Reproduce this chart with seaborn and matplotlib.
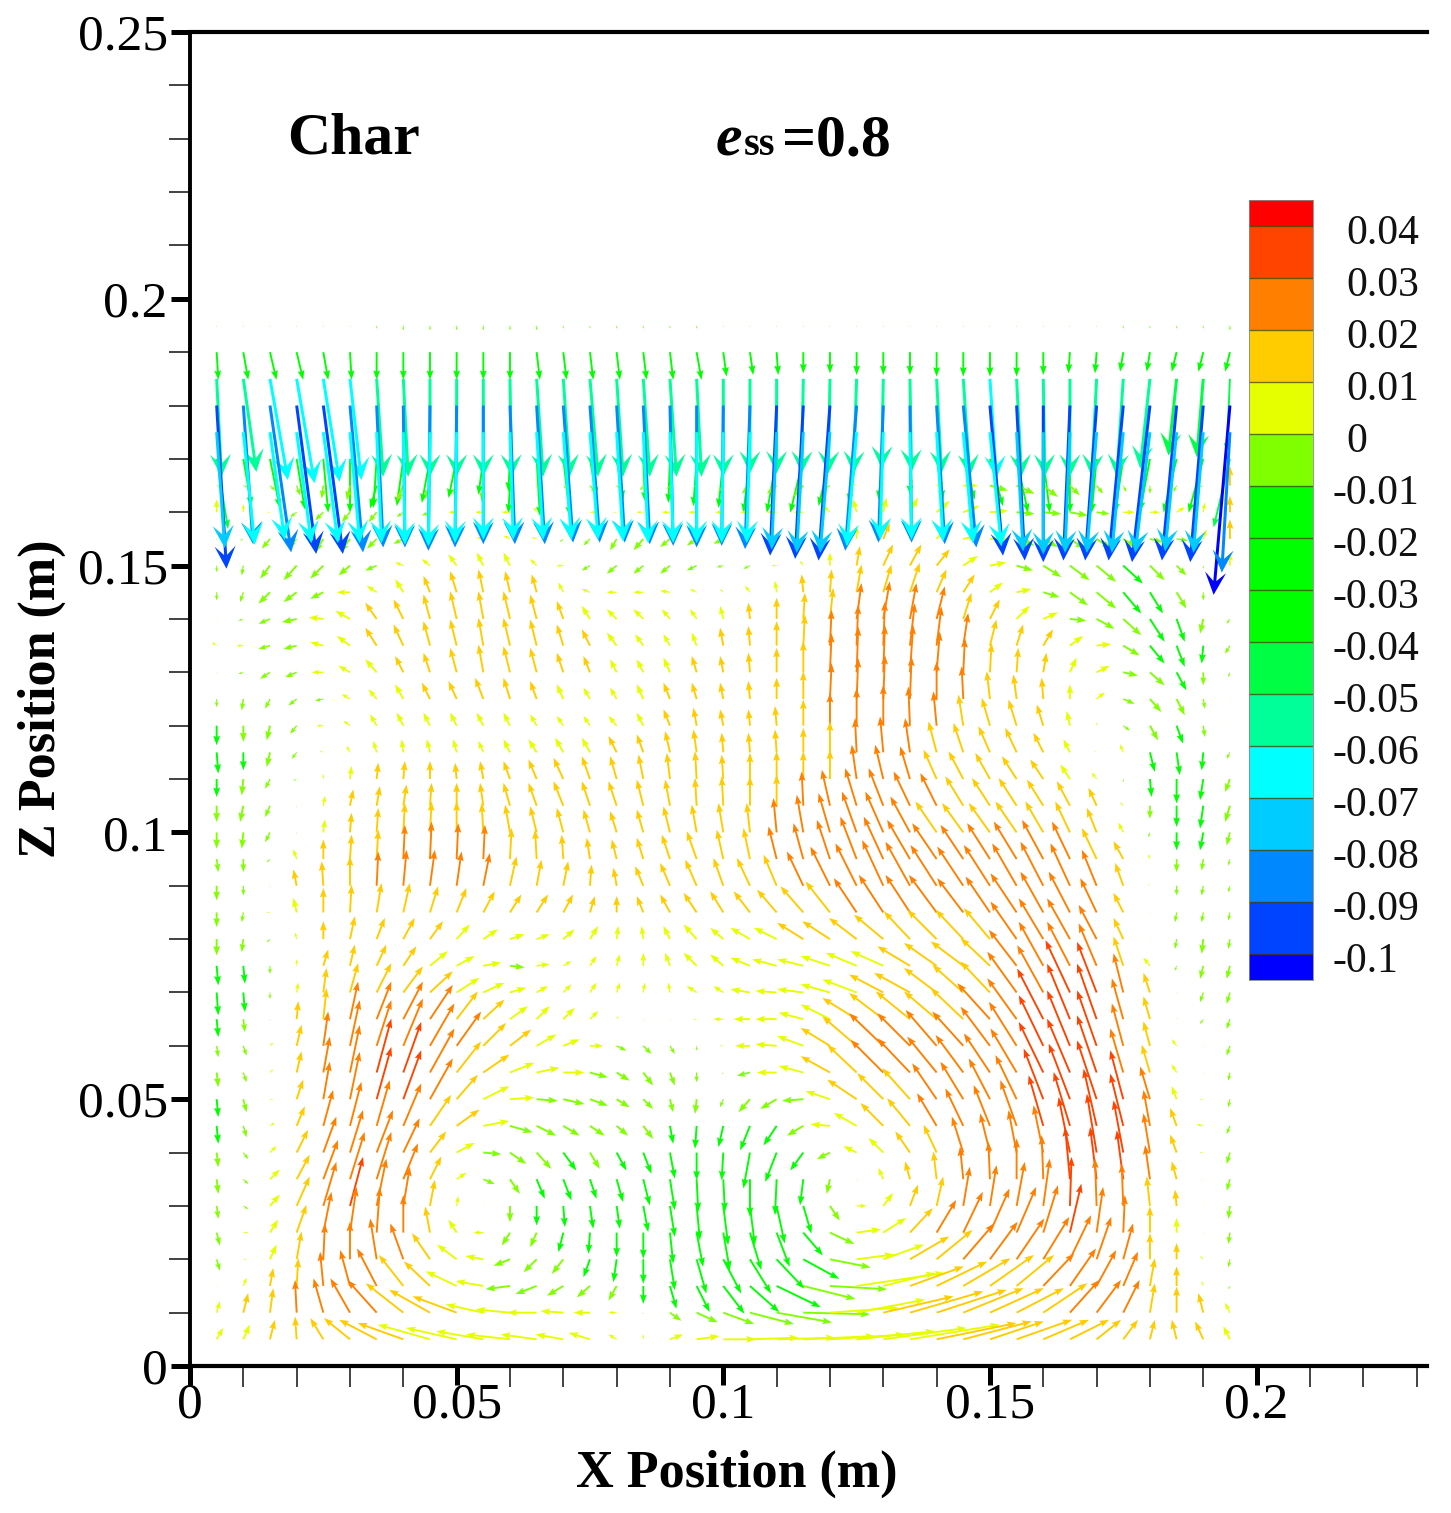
import numpy as np
import matplotlib
matplotlib.use('Agg')
import matplotlib.pyplot as plt
from matplotlib.colors import ListedColormap, BoundaryNorm
from matplotlib.ticker import FixedLocator
import seaborn as sns

# grid of the vector field (m)
x_pos = [0.005, 0.01, 0.015, 0.02, 0.025, 0.03, 0.035, 0.04, 0.045, 0.05, 0.055, 0.06, 0.065,
         0.07, 0.075, 0.08, 0.085, 0.09, 0.095, 0.1, 0.105, 0.11, 0.115, 0.12, 0.125, 0.13,
         0.135, 0.14, 0.145, 0.15, 0.155, 0.16, 0.165, 0.17, 0.175, 0.18, 0.185, 0.19, 0.195]
z_pos = [0.195, 0.19, 0.185, 0.18, 0.175, 0.17, 0.165, 0.16, 0.155, 0.15, 0.145, 0.14, 0.135,
         0.13, 0.125, 0.12, 0.115, 0.11, 0.105, 0.1, 0.095, 0.09, 0.085, 0.08, 0.075, 0.07,
         0.065, 0.06, 0.055, 0.05, 0.045, 0.04, 0.035, 0.03, 0.025, 0.02, 0.015, 0.01, 0.005]

# horizontal velocity, mm/s, one row per z_pos
u_rows = [
    [0,0,0,0,0,0,0,0,0,0,0,0,0,0,0,0,0,0,0, 0,0,0,0,0,0,0,0,0,0,0,0,0,0,0,0,0,0,0,0],
    [1,3,4,4,3,1,0,0,0,0,0,0,2,2,2,2,2,2,3, 2,2,1,0,0,0,0,0,0,0,0,0,0,-1,-1,-2,-2,-3,-3,-3],
    [3,8,11,11,10,7,4,3,0,0,0,1,4,4,5,4,4,4,3, 0,0,0,-1,-1,-2,-1,1,3,4,4,3,1,0,-3,-4,-6,-5,-4,-2],
    [6,6,13,12,12,8,4,1,-1,-1,0,3,5,6,6,5,4,2,0, -1,-3,-4,-5,-7,-7,-3,1,5,8,8,5,0,-4,-7,-9,-11,-9,-8,-10],
    [5,7,9,9,9,6,3,1,-1,-1,0,2,4,5,5,4,3,2,0, -1,-2,-3,-4,-6,-6,-2,1,4,6,7,4,0,-3,-6,-7,-9,-7,-6,-5],
    [7,5,6,5,3,0,-2,-4,-5,-5,-3,-1,2,4,4,4,1,-1,-2, -3,-4,-6,-8,-7,-5,-3,0,4,7,8,7,4,0,-3,-5,-6,-8,-9,-10],
    [3,3,3,2,-1,-2,-4,-4,-3,-2,-1,-1,1,2,4,4,-2,-2,-2, -3,-5,-6,-6,-5,-2,0,2,5,9,11,11,9,6,4,2,0,-2,-2,0],
    [0,0,-2,-4,-5,-5,-5,-4,-5,-5,-5,-5,-2,0,4,-2,-4,-5,-5, -5,-6,-6,-6,-4,-2,2,5,8,10,11,11,11,11,8,7,6,5,1,0],
    [0,-2,-5,-4,-5,-6,-6,-6,-4,-4,-4,-4,-3,-2,-4,-4,-6,-6,-6, -6,-3,-3,-3,-1,0,4,5,6,9,11,11,9,9,9,8,8,7,2,0],
    [0,-1,-6,-8,-8,-7,-7,-5,-5,-5,-4,-4,-4,-4,-5,-6,-6,-6,-6, -4,-4,-3,-2,0,2,6,7,8,9,10,10,11,12,12,12,9,6,0,0],
    [0,-2,-7,-8,-8,-8,-6,-5,-4,-4,-3,-3,-3,-3,-5,-6,-6,-6,-4, -2,-3,-1,-1,1,3,5,6,6,7,8,9,10,11,12,11,8,6,0,0],
    [0,-3,-7,-9,-9,-9,-7,-6,-4,-4,-3,-4,-4,-4,-5,-6,-6,-5,-4, -2,-1,0,1,2,3,4,4,5,5,6,8,9,10,11,11,9,5,-2,-2],
    [-3,-4,-7,-8,-8,-8,-7,-6,-4,-4,-3,-4,-4,-4,-5,-6,-5,-4,-3, -2,-1,0,1,1,1,1,3,3,3,4,4,6,8,9,10,9,5,-1,-3],
    [0,-3,-6,-7,-7,-7,-7,-5,-4,-4,-3,-4,-4,-4,-4,-4,-4,-4,-3, -2,-1,0,0,1,1,1,2,2,1,1,1,2,4,8,9,9,6,0,-1],
    [0,-1,-3,-5,-5,-5,-5,-5,-5,-5,-5,-4,-4,-4,-4,-4,-4,-4,-3, -2,-1,0,0,1,1,1,1,0,-1,-2,-2,-1,0,5,7,7,5,1,0],
    [0,0,-2,-4,-4,-4,-4,-4,-4,-4,-4,-4,-4,-4,-4,-5,-4,-4,-2, -2,-1,-1,0,0,0,0,-1,-2,-3,-5,-5,-4,-2,0,4,5,4,1,0],
    [1,0,-2,-3,-2,-2,-2,-1,-2,-2,-3,-4,-5,-5,-5,-5,-4,-3,-2, -1,-1,-1,0,0,-1,-2,-3,-5,-6,-7,-7,-6,-4,-1,-2,3,2,-1,-2],
    [0,-1,-3,-2,0,1,1,1,0,-1,-2,-4,-5,-6,-5,-4,-3,-2,-1, -1,0,0,0,0,-3,-5,-6,-8,-9,-9,-9,-8,-6,-3,0,1,0,-2,-3],
    [0,-2,-3,0,1,2,2,2,1,0,-2,-4,-5,-6,-5,-5,-4,-3,-1, -1,0,0,-1,-5,-7,-9,-10,-10,-11,-11,-11,-10,-8,-5,-2,0,0,-2,-3],
    [0,-1,-3,0,1,1,1,1,1,0,-1,-3,-4,-4,-4,-4,-4,-4,-3, -3,-2,-2,-4,-7,-9,-11,-12,-13,-13,-13,-13,-11,-9,-6,-3,-1,0,-2,-2],
    [1,0,-2,-2,0,1,1,1,1,1,1,1,-1,-1,-2,-3,-4,-5,-6, -4,-4,-5,-6,-8,-10,-12,-14,-15,-14,-14,-14,-13,-11,-9,-6,-1,0,-1,-1],
    [0,0,0,-2,-1,0,1,2,3,3,4,4,3,3,1,-2,-5,-6,-7, -6,-8,-8,-10,-12,-13,-13,-15,-16,-16,-16,-15,-14,-12,-9,-5,-1,0,-1,-1],
    [0,-1,-2,-2,0,1,3,4,5,6,7,7,7,6,3,0,-4,-6,-8, -8,-10,-12,-14,-15,-14,-15,-15,-17,-16,-15,-16,-14,-13,-10,-6,0,-1,-1,-1],
    [0,-1,-2,-1,0,3,5,7,8,8,9,9,8,7,5,1,-1,-4,-8, -8,-12,-14,-16,-17,-17,-18,-16,-18,-17,-16,-16,-15,-14,-11,-6,0,-1,-1,-1],
    [1,1,0,0,3,3,6,8,11,11,11,9,8,5,4,2,0,-3,-8, -8,-12,-15,-16,-18,-19,-20,-20,-20,-20,-18,-17,-15,-14,-11,-6,-4,-1,-2,-2],
    [1,1,0,1,2,5,9,12,14,14,13,10,7,5,4,2,1,-1,-6, -6,-12,-13,-16,-18,-21,-21,-22,-20,-19,-18,-18,-16,-15,-12,-6,-4,0,-2,-2],
    [1,1,0,1,2,5,9,12,14,13,13,11,8,7,5,1,1,0,-2, -6,-10,-13,-15,-18,-21,-21,-21,-20,-20,-20,-18,-16,-14,-12,-7,-4,0,-2,-2],
    [1,2,2,3,3,6,9,12,15,15,14,13,12,10,8,6,5,3,0, -2,-9,-13,-16,-18,-21,-21,-20,-19,-19,-18,-17,-15,-14,-12,-7,-4,-3,0,-2],
    [1,2,2,3,4,6,9,11,15,15,16,15,14,13,11,8,6,3,0, -1,-8,-12,-15,-18,-18,-20,-20,-18,-17,-16,-16,-15,-14,-12,-8,-5,-3,0,-1],
    [1,2,2,4,4,6,9,11,14,13,16,15,13,13,11,8,6,2,-1, -2,-7,-10,-13,-15,-18,-16,-17,-15,-14,-13,-13,-12,-13,-12,-8,-6,-3,-2,-1],
    [1,2,3,5,6,7,8,11,13,14,16,14,12,10,9,7,6,2,-1, -3,-6,-8,-10,-12,-14,-14,-14,-12,-11,-10,-10,-9,-10,-8,-8,-4,-4,-4,-2],
    [1,3,4,7,8,8,10,10,10,11,11,10,9,8,6,6,5,3,0, -1,-4,-7,-8,-8,-8,-9,-9,-8,-7,-6,-5,-6,-7,-6,-6,-4,-4,-2,-2],
    [1,3,6,8,9,9,9,9,7,6,7,6,5,5,4,4,4,3,1, 1,0,-1,-2,-2,0,-3,-3,-2,-2,-1,0,-1,-3,-4,-4,-3,-3,-1,-2],
    [1,3,6,8,8,8,6,4,3,1,0,0,0,1,2,2,3,3,2, 3,3,5,5,6,6,6,5,4,4,4,5,4,1,-1,-1,-2,-1,0,-1],
    [2,3,5,6,5,4,2,0,-3,-5,-6,-5,-4,-3,-1,0,0,2,4, 4,7,8,12,15,15,14,14,12,12,12,12,9,7,4,1,0,0,0,-1],
    [2,2,4,3,1,0,-4,-8,-11,-12,-11,-10,-8,-7,-4,-2,0,3,6, 11,13,17,22,25,23,25,24,22,19,17,17,16,13,9,6,0,0,-2,-1],
    [1,2,2,1,-2,-6,-12,-15,-16,-19,-17,-15,-13,-10,-8,-5,0,4,8, 13,18,27,32,35,54,32,33,31,29,27,23,19,16,12,9,3,0,-1,-1],
    [2,3,2,-1,-6,-12,-18,-23,-25,-27,-23,-21,-18,-14,-10,-5,0,7,13, 19,27,34,41,42,42,43,45,43,37,33,29,27,18,15,10,3,0,-3,-3],
    [4,4,3,-1,-8,-16,-23,-28,-32,-31,-29,-27,-22,-17,-13,-5,0,8,14, 20,30,36,44,46,48,51,55,49,42,33,34,28,24,15,9,3,-3,-5,-4],
]

# vertical velocity, mm/s, same layout
w_rows = [
    [-1,-1,-1,-1,-1,-1,-2,-3,-3,-3,-3,-3,-3,-2,-2,-2,-2,-2,-2, -1,-1,-1,-1,-1,-1,-1,-1,-1,-1,-1,-1,-1,-1,-1,-2,-2,-2,-2,-3],
    [-17,-17,-17,-17,-17,-17,-17,-17,-17,-17,-17,-17,-17,-17,-17,-17,-17,-17,-17, -15,-14,-14,-13,-13,-14,-14,-14,-15,-15,-15,-15,-14,-13,-13,-12,-12,-12,-12,-12],
    [-60,-57,-62,-64,-63,-62,-60,-60,-60,-60,-60,-60,-60,-60,-60,-60,-60,-60,-60, -60,-58,-58,-58,-58,-58,-55,-57,-58,-60,-61,-60,-60,-60,-60,-60,-55,-47,-48,-45],
    [-100,-85,-90,-91,-91,-90,-87,-87,-89,-87,-85,-85,-85,-84,-84,-84,-85,-86,-87, -86,-88,-92,-94,-95,-89,-84,-84,-85,-87,-92,-95,-96,-95,-95,-95,-96,-95,-96,-116],
    [-71,-69,-66,-68,-68,-68,-68,-69,-70,-68,-66,-66,-66,-66,-66,-67,-68,-68,-68, -68,-68,-72,-74,-74,-70,-66,-66,-67,-68,-70,-73,-75,-74,-74,-74,-74,-73,-74,-86],
    [-43,-29,-30,-31,-33,-33,-30,-29,-27,-24,-22,-20,-35,-35,-23,-25,-26,-27,-29, -30,-33,-33,-33,-29,-27,-25,-22,-25,-25,-29,-33,-33,-33,-33,-33,-32,-33,-33,-42],
    [-1,-1,-3,-6,-8,-9,-14,-10,-8,-6,-10,-17,-2,-2,-5,-4,-3,-2,-1, -4,-5,-5,-7,-3,1,2,4,2,0,-3,-5,-7,-6,-5,-4,-5,-4,-1,12],
    [8,5,0,-3,-5,-6,-6,-3,-2,0,0,0,3,0,0,0,0,0,0, 0,0,0,0,4,8,9,9,7,4,1,-1,-1,-2,-1,0,0,3,6,10],
    [-1,-1,-6,-5,-8,-8,-6,-3,0,-1,1,2,1,-2,-4,-7,-7,-5,-4, -3,0,-3,1,2,8,10,10,7,2,0,-4,-5,-6,-6,-5,-2,-1,6,12],
    [-4,-6,-8,-9,-8,-6,-3,2,4,7,8,8,4,0,-3,-5,-5,-5,-3, -1,-2,0,3,8,12,13,13,10,6,2,-3,-7,-9,-10,-11,-9,-6,-2,8],
    [-5,-6,-7,-6,-4,0,4,8,10,13,14,13,11,6,2,0,0,1,2, 2,4,7,11,14,17,17,18,14,11,6,2,-3,-8,-10,-13,-13,-10,-5,1],
    [0,-1,-3,-2,1,5,10,12,15,17,17,17,15,11,8,6,6,6,6, 8,10,13,16,19,22,23,22,20,16,12,8,4,-1,-6,-10,-14,-14,-9,-3],
    [2,0,-2,-2,2,6,11,13,15,16,17,17,16,13,10,8,7,7,8, 11,12,15,19,22,25,27,26,24,20,16,13,10,6,1,-6,-11,-13,-11,-5],
    [0,-1,-4,-3,0,4,8,10,12,15,17,16,15,12,10,8,8,9,10, 10,12,15,19,24,28,29,29,25,21,18,15,12,9,4,-2,-8,-11,-8,-3],
    [-5,-7,-6,-4,-1,3,6,9,10,11,13,13,11,9,7,7,9,10,10, 10,11,13,17,22,25,27,26,23,20,17,15,13,9,4,-3,-8,-10,-6,0],
    [-12,-10,-9,-5,0,3,7,8,8,8,8,8,7,6,6,6,8,10,11, 10,10,12,16,20,23,25,24,21,19,17,16,13,9,2,-3,-9,-11,-7,0],
    [-13,-11,-9,-4,1,4,7,8,8,8,7,8,8,9,9,10,11,13,14, 12,12,14,15,19,21,22,21,19,18,16,15,12,8,1,5,-12,-14,-11,-4],
    [-11,-10,-6,-1,3,8,10,11,11,10,11,11,12,13,14,14,15,16,17, 15,16,17,17,18,21,21,20,18,17,16,14,12,9,4,-2,-11,-15,-13,-8],
    [-10,-10,-7,-1,6,10,12,13,14,14,14,14,14,15,15,15,16,16,17, 18,18,19,21,22,23,23,21,20,18,17,17,16,15,11,2,-8,-13,-14,-10],
    [-10,-10,-6,-1,8,12,15,18,19,19,18,17,16,15,14,13,14,16,17, 18,18,21,23,24,25,25,22,19,18,18,19,19,19,15,6,-3,-11,-11,-8],
    [-8,-8,-2,6,12,15,18,21,23,22,21,19,18,15,13,12,13,15,17, 18,19,20,22,24,26,26,24,22,21,22,23,24,23,19,11,3,-8,-7,-4],
    [-9,-6,-1,10,15,18,21,22,22,21,20,18,16,15,13,11,12,14,16, 17,17,19,21,24,26,28,27,25,24,25,26,27,26,22,14,1,-6,-6,-4],
    [-9,-6,0,9,15,17,18,18,16,15,13,11,11,11,10,10,10,11,12, 13,13,14,16,19,21,23,23,23,21,22,24,25,25,21,12,0,-6,-6,-5],
    [-10,-8,-2,4,11,14,13,13,11,9,6,3,3,6,8,8,8,8,9, 7,7,7,10,11,13,15,17,18,18,19,23,25,25,21,13,0,-6,-9,-6],
    [-12,-11,-5,4,10,13,13,12,9,6,2,-1,1,3,6,7,8,8,8, 7,5,4,4,6,8,9,12,14,15,17,22,27,27,26,18,5,-3,-8,-8],
    [-14,-12,-4,6,15,18,18,16,13,9,6,3,4,5,6,6,6,6,4, 4,2,1,2,5,8,11,12,15,17,19,25,29,32,31,24,12,0,-6,-7],
    [-11,-8,-1,11,19,23,23,23,21,17,12,8,8,7,5,2,0,0,0, 0,0,0,4,9,13,16,17,17,19,22,25,31,34,34,25,14,1,-3,-6],
    [-7,-6,2,13,21,28,28,29,26,21,14,10,7,4,0,-3,-5,-5,-3, 0,0,1,6,11,18,20,20,22,21,24,27,31,34,34,26,15,4,0,-6],
    [-9,-6,2,13,22,29,33,31,27,19,11,6,3,0,-3,-5,-8,-8,-6, -1,-2,0,4,10,17,20,21,22,23,24,27,31,33,35,27,17,5,0,-5],
    [-11,-8,0,12,23,29,32,30,25,15,8,1,-1,-3,-4,-5,-6,-8,-9, -5,-8,-6,-1,5,12,16,19,22,23,25,27,31,34,36,30,20,8,0,-5],
    [-11,-7,2,12,22,27,28,26,19,10,3,-4,-6,-6,-6,-6,-8,-11,-14, -13,-15,-12,-6,1,8,14,17,20,23,25,28,31,33,35,32,22,11,1,-5],
    [-9,-4,4,14,22,26,26,21,13,6,-1,-7,-10,-11,-10,-11,-13,-16,-17, -17,-22,-18,-11,-4,4,9,13,17,22,24,26,29,34,36,32,24,11,0,-7],
    [-9,-3,6,15,24,29,29,22,14,4,-3,-9,-12,-13,-12,-14,-16,-19,-20, -20,-23,-22,-16,-9,0,7,11,17,20,23,25,27,32,32,30,21,11,0,-7],
    [-8,-2,7,18,27,30,29,24,16,6,0,-10,-12,-13,-14,-14,-16,-19,-21, -24,-24,-23,-17,-9,0,8,13,18,24,25,27,29,30,29,26,18,10,0,-8],
    [-8,0,8,17,25,28,28,23,16,8,0,-8,-9,-12,-13,-15,-16,-19,-21, -23,-23,-21,-14,-7,2,9,15,20,25,27,28,29,30,28,23,16,9,0,-7],
    [-7,0,9,17,22,23,25,22,16,9,2,-4,-8,-9,-11,-14,-15,-19,-21, -21,-21,-18,-12,-5,3,9,14,18,22,23,25,26,27,26,22,16,10,2,-5],
    [0,5,11,17,21,22,23,19,15,9,3,-2,-5,-6,-7,-9,-11,-14,-16, -17,-16,-13,-8,-2,8,8,12,15,17,19,19,20,23,22,21,17,12,3,-2],
    [7,12,15,20,21,21,20,18,14,10,5,2,0,1,0,0,-1,-5,-6, -7,-7,-6,-1,3,8,10,13,14,15,15,15,18,20,20,20,18,16,12,6],
    [7,9,12,14,13,13,12,10,9,7,5,3,3,3,4,3,3,3,2, 0,1,1,2,3,5,7,9,10,11,11,12,12,12,12,12,12,12,11,8],
]

# contour levels and band colours, top of the legend first
levels = [0.04, 0.03, 0.02, 0.01, 0, -0.01, -0.02, -0.03, -0.04, -0.05, -0.06, -0.07, -0.08, -0.09, -0.1]
level_labels = ['0.04', '0.03', '0.02', '0.01', '0', '-0.01', '-0.02', '-0.03', '-0.04', '-0.05',
                '-0.06', '-0.07', '-0.08', '-0.09', '-0.1']
band_colors = ['#ff0000', '#ff4400', '#ff8000', '#ffcc00', '#e6ff00', '#80ff00', '#00ff00', '#00ff00',
               '#00ff00', '#00ff44', '#00ff99', '#00ffff', '#00ccff', '#0088ff', '#0044ff', '#0000ff']

x_ticks = [0, 0.05, 0.1, 0.15, 0.2]
x_tick_labels = ['0', '0.05', '0.1', '0.15', '0.2']
z_ticks = [0, 0.05, 0.1, 0.15, 0.2, 0.25]
z_tick_labels = ['0', '0.05', '0.1', '0.15', '0.2', '0.25']
x_minor = [0.01, 0.02, 0.03, 0.04, 0.06, 0.07, 0.08, 0.09, 0.11, 0.12, 0.13, 0.14, 0.16, 0.17, 0.18, 0.19, 0.21, 0.22, 0.23]
z_minor = [0.01, 0.02, 0.03, 0.04, 0.06, 0.07, 0.08, 0.09, 0.11, 0.12, 0.13, 0.14, 0.16, 0.17, 0.18, 0.19, 0.21, 0.22, 0.23, 0.24]

sns.set_style('ticks')
plt.rcParams['font.family'] = ['Liberation Serif', 'DejaVu Serif']
plt.rcParams['text.color'] = 'black'
plt.rcParams['axes.labelcolor'] = 'black'

W, H = 1451, 1513
fig = plt.figure(figsize=(W / 100, H / 100), dpi=100, facecolor='white')
ax = fig.add_axes([190 / W, 1 - 1366 / H, 1237 / W, 1334 / H])

# colour scale
palette = sns.color_palette(band_colors)
cmap = ListedColormap(palette[::-1])
norm = BoundaryNorm(levels[::-1], cmap.N, extend='both')

X, Z = np.meshgrid(x_pos, z_pos)
U = np.array(u_rows) / 1000
V = np.array(w_rows) / 1000

# the fast downward arrows get the big open heads
big = V < -0.045
small = ~big
ax.quiver(X[small], Z[small], U[small], V[small], V[small], cmap=cmap, norm=norm,
          angles='xy', scale_units='xy', scale=3.27, units='dots', width=1.9,
          headwidth=3.6, headlength=5, headaxislength=4.4, minshaft=1.6, minlength=0.4, zorder=2)
ax.quiver(X[big], Z[big], U[big], V[big], V[big], cmap=cmap, norm=norm,
          angles='xy', scale_units='xy', scale=3.27, units='dots', width=3,
          headwidth=7, headlength=7.5, headaxislength=4.6, minshaft=1, zorder=3)

ax.set_xlim(0, 1237 / 5333)
ax.set_ylim(0, 0.25)
ax.set_xticks(x_ticks, x_tick_labels)
ax.set_yticks(z_ticks, z_tick_labels)
ax.xaxis.set_minor_locator(FixedLocator(x_minor))
ax.yaxis.set_minor_locator(FixedLocator(z_minor))
ax.tick_params(which='major', length=14, width=3.6, labelsize=37, color='k', labelcolor='k')
ax.tick_params(which='minor', length=15, width=1.2, color='#222222')
ax.tick_params(axis='x', which='major', pad=-2.5)
ax.tick_params(axis='y', which='major', pad=2)

sns.despine(ax=ax, top=False, right=True)
for side, lw in (('left', 2.8), ('top', 3), ('bottom', 3)):
    ax.spines[side].set_linewidth(lw)
    ax.spines[side].set_color('k')

ax.set_xlabel('X Position (m)', fontsize=37.5, fontweight='bold')
ax.set_ylabel('Z Position (m)', fontsize=37.5, fontweight='bold')
ax.xaxis.set_label_coords((737 - 190) / 1237, -0.063)
ax.yaxis.set_label_coords((66 - 190) / 1237, 0.5)

pix = lambda px, py: (px / W, 1 - py / H)
fig.text(*pix(287, 153), 'Char', fontsize=43, fontweight='bold', ha='left', va='baseline')
fig.text(*pix(716, 155), 'e', fontsize=43, fontweight='bold', fontstyle='italic', ha='left', va='baseline')
fig.text(*pix(744, 155), 'ss', fontsize=29, fontweight='bold', ha='left', va='baseline')
fig.text(*pix(782, 155), '=0.8', fontsize=43, fontweight='bold', ha='left', va='baseline')

# legend strip: half-band rows so the end caps come out half height
strip = [[0.045]]
for hi, lo in zip(levels[:-1], levels[1:]):
    strip += [[(hi + lo) / 2], [(hi + lo) / 2]]
strip.append([-0.105])
cax = fig.add_axes([1249 / W, 1 - 980 / H, 64 / W, 780 / H])
sns.heatmap(np.array(strip), ax=cax, cmap=cmap, norm=norm, cbar=False, xticklabels=False, yticklabels=False)
for i, label in enumerate(level_labels):
    row = 1 + 2 * i
    cax.axhline(row, color='#444400', lw=1, alpha=0.75)
    cax.text(1.31 if label.startswith('-') else 1.52, row + 0.3, label, fontsize=30, ha='left', va='center', color='#111111')
for s in cax.spines.values():
    s.set_visible(True)
    s.set_linewidth(0.6)
    s.set_color('#888888')

fig.savefig('out.png', dpi=100, facecolor='white')
